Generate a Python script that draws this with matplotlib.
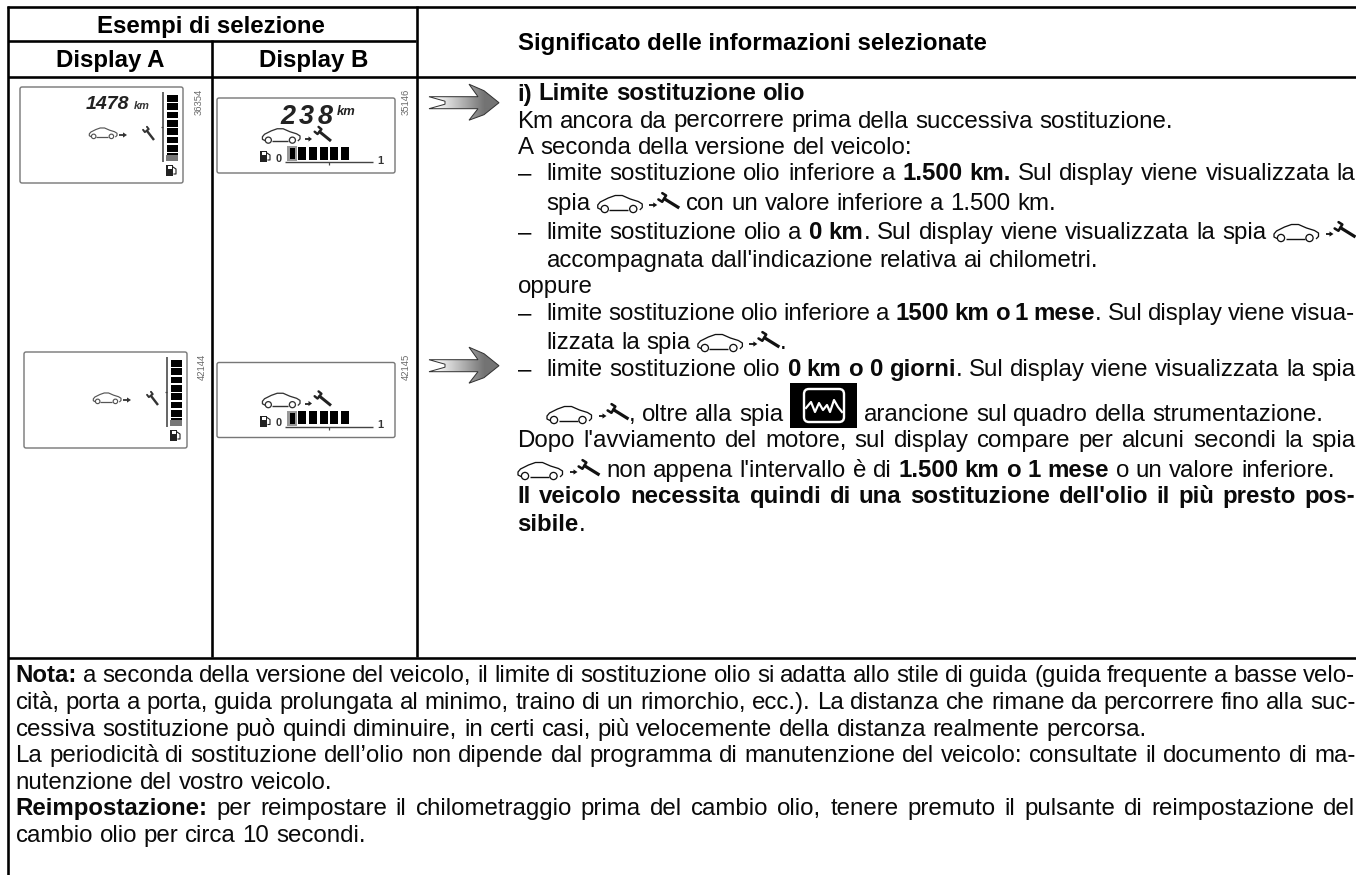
import re
import matplotlib
matplotlib.use("Agg")
import matplotlib.pyplot as plt
import numpy as np
from matplotlib.font_manager import FontProperties
from matplotlib.patches import FancyBboxPatch, Rectangle, Polygon, Circle

plt.rcParams["text.hinting"] = "native"
plt.rcParams["text.hinting_factor"] = 8

# testi della tabella (** = grassetto, @ = icona auto/chiave, # = spia arancione)
intestazione_1 = "Esempi di selezione"
intestazione_a = "Display A"
intestazione_b = "Display B"
intestazione_2 = "Significato delle informazioni selezionate"

righe = [
    "**i) Limite sostituzione olio**",
    "Km ancora da percorrere prima della successiva sostituzione.",
    "A seconda della versione del veicolo:",
    "– limite sostituzione olio inferiore a **1.500 km.** Sul display viene visualizzata la",
    "spia @ con un valore inferiore a 1.500 km.",
    "– limite sostituzione olio a **0 km**. Sul display viene visualizzata la spia @",
    "accompagnata dall'indicazione relativa ai chilometri.",
    "oppure",
    "– limite sostituzione olio inferiore a **1500 km o 1 mese**. Sul display viene visua-",
    "lizzata la spia @.",
    "– limite sostituzione olio **0 km o 0 giorni**. Sul display viene visualizzata la spia",
    "@, oltre alla spia # arancione sul quadro della strumentazione.",
    "Dopo l'avviamento del motore, sul display compare per alcuni secondi la spia",
    "@ non appena l'intervallo è di **1.500 km o 1 mese** o un valore inferiore.",
    "**Il veicolo necessita quindi di una sostituzione dell'olio il più presto pos-**",
    "**sibile**.",
]
righe_y = [100.5, 127.5, 154, 180, 210, 239, 267, 293, 320, 349, 376, 421, 447, 477, 503, 531]
righe_rientro = [0, 0, 0, 0, 1, 0, 1, 0, 0, 1, 0, 1, 0, 0, 0, 0]
righe_giust = [0, 0, 0, 1, 0, 1, 0, 0, 1, 0, 1, 0, 1, 0, 1, 0]

nota = [
    "**Nota:** a seconda della versione del veicolo, il limite di sostituzione olio si adatta allo stile di guida (guida frequente a basse velo-",
    "cità, porta a porta, guida prolungata al minimo, traino di un rimorchio, ecc.). La distanza che rimane da percorrere fino alla suc-",
    "cessiva sostituzione può quindi diminuire, in certi casi, più velocemente della distanza realmente percorsa.",
    "La periodicità di sostituzione dell’olio non dipende dal programma di manutenzione del veicolo: consultate il documento di ma-",
    "nutenzione del vostro veicolo.",
    "**Reimpostazione:** per reimpostare il chilometraggio prima del cambio olio, tenere premuto il pulsante di reimpostazione del",
    "cambio olio per circa 10 secondi.",
]
nota_y = [682, 709, 736, 762, 789, 815, 842]
nota_giust = [1, 1, 0, 1, 0, 1, 0]

codici_a = ["36354", "42144"]
codici_b = ["35146", "42145"]
km_a = "1478"
km_b = "238"
tacche_a = 8
tacche_b = 5

FONT = "Liberation Sans"
PX = 72 / 100
DIM = 24.0 * PX

fig = plt.figure(figsize=(13.56, 8.75), dpi=100)
ax = fig.add_axes([0, 0, 1, 1])
ax.set_xlim(0, 1356)
ax.set_ylim(875, 0)
ax.axis("off")

renderer = fig.canvas.get_renderer()
norm = FontProperties(family=FONT, size=DIM)
gras = FontProperties(family=FONT, size=DIM, weight="bold")


def larghezza(s, bold=False):
    # larghezza di avanzamento: misura tra due x per non perdere gli spazi
    prop = gras if bold else norm
    a = renderer.get_text_width_height_descent("x" + s + "x", prop, False)[0]
    b = renderer.get_text_width_height_descent("xx", prop, False)[0]
    return a - b


def linea(x0, x1, y0, y1, lw=2.6, col="black"):
    ax.plot([x0, x1], [y0, y1], color=col, lw=lw * PX, solid_capstyle="butt")


def auto(x, y, w=45, col="#111111", lw=1.0):
    # sagoma dell'auto, y = linea di base
    s = w / 45
    xs = np.array([3.5, 0.5, 0.5, 3, 11, 18, 25, 33, 41, 45, 45, 43])
    ys = np.array([-0.5, -2, -5, -8, -12, -14.5, -14.5, -11, -8.5, -6, -2.5, -0.5])
    ax.plot(x + xs * s, y + ys * s, color=col, lw=lw * PX * 1.3)
    linea(x + 12 * s, x + 31 * s, y, y, lw=lw * 1.4, col=col)
    for cx in (7.5, 36):
        ax.add_patch(Circle((x + cx * s, y - 1 * s), 3.6 * s, fc="white", ec=col, lw=lw * PX * 1.3, zorder=3))


def freccetta(x, y, w=8, col="#111111"):
    linea(x, x + w * 0.6, y, y, lw=1.8, col=col)
    ax.add_patch(Polygon([[x + w * 0.5, y - 2.6], [x + w, y], [x + w * 0.5, y + 2.6]], fc=col, ec="none"))


def chiave(x0, y0, x1, y1, col="#111111", lw=3.2):
    # chiave inglese: testa a forcella in alto a sinistra, manico verso il basso
    p0 = np.array([x0, y0], dtype=float)
    p1 = np.array([x1, y1], dtype=float)
    lung = np.hypot(*(p1 - p0))
    u = (p1 - p0) / lung
    n = np.array([-u[1], u[0]])
    c = p0 + u * lung * 0.28
    linea(c[0], x1, c[1], y1, lw=lw, col=col)
    r = lung * 0.2
    for seg in (1, -1):
        q = c + n * seg * r * 0.75
        t = q - u * r * 0.9
        ax.plot([c[0], q[0], t[0]], [c[1], q[1], t[1]], color=col, lw=lw * PX * 0.8, solid_capstyle="round")


def icona_auto(x, y):
    auto(x, y)
    freccetta(x + 52, y - 5)
    chiave(x + 61, y - 15, x + 82, y - 2)


def spia(x, y):
    # riquadro nero della spia arancione
    ax.add_patch(Rectangle((x, y - 38), 67, 45, fc="black", ec="none"))
    ax.add_patch(FancyBboxPatch((x + 14, y - 32), 40, 33, boxstyle="round,pad=0,rounding_size=5",
                                fc="black", ec="white", lw=2.4 * PX))
    zx = np.array([16, 21, 25, 29, 33, 37, 40, 44, 48, 52])
    zy = np.array([-13, -19, -9, -18, -11, -16, -9, -21, -14, -9])
    ax.plot(x + zx, y + zy, color="white", lw=2.2 * PX)


def parole(testo):
    # spezza la riga in parole, ognuna lista di pezzi (testo, grassetto)
    out = []
    corrente = []
    for i, pezzo in enumerate(testo.split("**")):
        bold = i % 2 == 1
        for j, p in enumerate(re.split(r" ", pezzo)):
            if j > 0:
                if corrente:
                    out.append(corrente)
                corrente = []
            if p:
                corrente.append((p, bold))
    if corrente:
        out.append(corrente)
    return out


def larghezza_pezzo(p, bold):
    w = 0
    for parte in re.split(r"([@#])", p):
        if parte == "@":
            w += 82
        elif parte == "#":
            w += 67
        elif parte:
            w += larghezza(parte, bold)
    return w


def scrivi_riga(testo, x, y, x_fine=None):
    lista = parole(testo)
    tot = sum(larghezza_pezzo(p, b) for par in lista for p, b in par)
    spazio = larghezza(" ")
    if x_fine is not None and len(lista) > 1:
        spazio = (x_fine - x - tot) / (len(lista) - 1)
    for par in lista:
        for p, b in par:
            for parte in re.split(r"([@#])", p):
                if parte == "@":
                    icona_auto(x, y)
                    x += 82
                elif parte == "#":
                    spia(x, y)
                    x += 67
                elif parte:
                    ax.text(x, y, parte, fontproperties=gras if b else norm, color="#0a0a0a", ha="left", va="baseline")
                    x += larghezza(parte, b)
        x += spazio


def freccia(y):
    # freccia sfumata dal bianco al grigio
    pts = [[429, y - 6], [478, y - 6], [469, y - 18.5], [484, y - 12], [499, y],
           [484, y + 12], [469, y + 17.5], [478, y + 6], [429, y + 6], [445, y + 1.5], [445, y - 1.5]]
    poli = Polygon(pts, closed=True, fc="none", ec="#333333", lw=1.0 * PX, zorder=3)
    ax.add_patch(poli)
    grad = np.concatenate([np.linspace(1, 0.45, 100), np.full(30, 0.45)]).reshape(1, -1)
    im = ax.imshow(grad, extent=[435, 500, y + 20, y - 20], cmap="gray", vmin=0, vmax=1, aspect="auto", zorder=2)
    im.set_clip_path(poli)


def cornice(x0, y0, x1, y1):
    ax.add_patch(FancyBboxPatch((x0, y0), x1 - x0, y1 - y0, boxstyle="round,pad=0,rounding_size=2",
                                fc="white", ec="#777777", lw=1.4 * PX))


def benzina(x, y, col="#222222"):
    ax.add_patch(Rectangle((x, y), 7, 11, fc=col, ec="none"))
    ax.add_patch(Rectangle((x + 1.5, y + 1), 4, 3, fc="white", ec="none"))
    ax.plot([x + 7, x + 10, x + 10, x + 8], [y + 2, y + 4, y + 9, y + 9], color=col, lw=0.8)


def display_a(dx, dy, codice, con_km):
    cornice(20 + dx, 87 + dy, 183 + dx, 183 + dy)
    if con_km:
        ax.text(86 + dx, 109 + dy, km_a, fontproperties=FontProperties(family=FONT, size=19.5 * PX, weight="bold", style="italic"), color="#222222")
        ax.text(134 + dx, 109 + dy, "km", fontproperties=FontProperties(family=FONT, size=11 * PX, weight="bold", style="italic"), color="#333333")
    auto(89 + dx, 137 + dy, w=28, col="#555555", lw=0.9)
    freccetta(119 + dx, 135 + dy, w=8, col="#333333")
    chiave(144 + dx, 127 + dy, 154 + dx, 140 + dy, col="#333333", lw=2.4)
    # barra verticale a tacche
    linea(163 + dx, 163 + dx, 92 + dy, 162 + dy, lw=1.6, col="#444444")
    linea(161 + dx, 163 + dx, 127 + dy, 127 + dy, lw=1.2, col="#444444")
    for i in range(tacche_a):
        ax.add_patch(Rectangle((167 + dx, 95 + i * 8.3 + dy), 11, 6.8, fc="black", ec="none"))
    ax.add_patch(Rectangle((166 + dx, 155 + dy), 12, 6, fc="#777777", ec="none"))
    benzina(166 + dx, 165 + dy)
    ax.text(199 + dx * 0.75, 102 + dy, codice, rotation=90, ha="center", va="center", color="#666666",
            fontproperties=FontProperties(family=FONT, size=9.5 * PX))


def display_b(dy, codice, con_km):
    cornice(217, 98 + dy, 395, 173 + dy)
    if con_km:
        for i, c in enumerate(km_b):
            ax.text(280 + i * 19, 124 + dy, c, fontproperties=FontProperties(family=FONT, size=27 * PX, weight="bold", style="italic"), color="#222222")
        ax.text(337, 115 + dy, "km", fontproperties=FontProperties(family=FONT, size=13 * PX, weight="bold", style="italic"), color="#222222")
    auto(262, 141 + dy, w=38, col="#333333", lw=1.0)
    freccetta(305, 139 + dy, w=7, col="#222222")
    chiave(315, 128 + dy, 331, 141 + dy, col="#222222", lw=3)
    benzina(260, 151 + dy)
    ax.text(276, 162 + dy, "0", fontproperties=FontProperties(family=FONT, size=11 * PX, weight="bold"), color="#333333")
    ax.add_patch(Rectangle((287, 146 + dy), 10, 15, fc="#999999", ec="none"))
    ax.add_patch(Rectangle((290, 148 + dy), 5, 11, fc="black", ec="none"))
    for i in range(tacche_b):
        ax.add_patch(Rectangle((298 + i * 10.8, 146.5 + dy), 8, 13, fc="black", ec="none"))
    linea(285, 373, 162 + dy, 162 + dy, lw=1.4, col="#444444")
    linea(329, 329, 162 + dy, 165 + dy, lw=1.2, col="#444444")
    ax.text(377, 164 + dy, "1", fontproperties=FontProperties(family=FONT, size=11 * PX, weight="bold"), color="#333333")
    ax.text(406, 102 + dy, codice, rotation=90, ha="center", va="center", color="#666666",
            fontproperties=FontProperties(family=FONT, size=9.5 * PX))


# griglia della tabella
linea(7, 1356, 7, 7)
linea(8, 416, 40.5, 40.5)
linea(8, 1356, 76.5, 76.5)
linea(8, 1356, 657.5, 657.5)
linea(8, 8, 6, 875)
linea(212, 212, 40, 657)
linea(416.5, 416.5, 6, 657)

# intestazioni
ax.text(211, 33.3, intestazione_1, fontproperties=gras, ha="center", va="baseline", color="black")
ax.text(110, 66.7, intestazione_a, fontproperties=gras, ha="center", va="baseline", color="black")
ax.text(314, 66.7, intestazione_b, fontproperties=gras, ha="center", va="baseline", color="black")
ax.text(517.5, 50, intestazione_2, fontproperties=gras, ha="left", va="baseline", color="black")

# riquadri dei display
display_a(0, 0, codici_a[0], True)
display_a(4, 265, codici_a[1], False)
display_b(0, codici_b[0], True)
display_b(264.5, codici_b[1], False)

freccia(102.7)
freccia(365.7)

# colonna dei significati
for testo, y, rient, giust in zip(righe, righe_y, righe_rientro, righe_giust):
    x = 546.5 if rient else 517.5
    if testo.startswith("– "):
        ax.text(517.5, y, "–", fontproperties=norm, color="#0a0a0a", ha="left", va="baseline")
        testo = testo[2:]
        x = 546.5
    scrivi_riga(testo, x, y, 1355.5 if giust else None)

# nota in basso
for testo, y, giust in zip(nota, nota_y, nota_giust):
    scrivi_riga(testo, 15.5, y, 1355.5 if giust else None)

ax.set_xlim(0, 1356)
ax.set_ylim(875, 0)
fig.savefig("out.png", dpi=100, facecolor="white")
